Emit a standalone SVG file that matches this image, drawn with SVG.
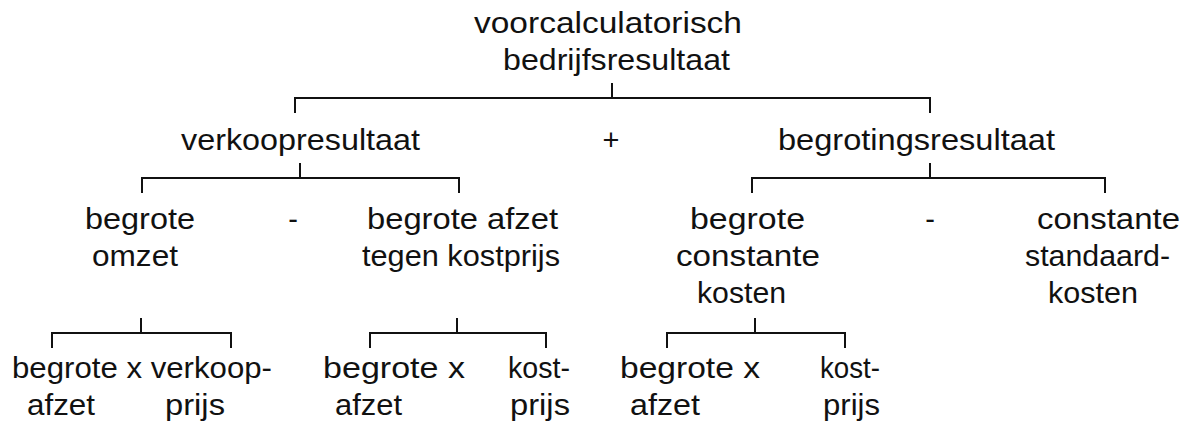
<svg xmlns="http://www.w3.org/2000/svg" width="1184" height="425" viewBox="0 0 1184 425">
<style>
text{font-family:"Liberation Sans",Arial,sans-serif;font-size:29px;fill:#111}
.c path{fill:none;stroke:#111;stroke-width:2}
</style>
<rect width="1184" height="425" fill="#fff"/>
<g class="c" id="connectors">
<path d="M612 83V98M295 113V98H930V113"/>
<path d="M300 163V178M142 193V178H459V193"/>
<path d="M930 163V178M752 193V178H1105V193"/>
<path d="M141 318V333M52 348V333H231V348"/>
<path d="M457 318V333M370 348V333H546V348"/>
<path d="M755 318V333M667 348V333H845V348"/>
</g>
<g id="root"><text x="474" y="33" textLength="268" lengthAdjust="spacingAndGlyphs">voorcalculatorisch</text><text x="503" y="70" textLength="227" lengthAdjust="spacingAndGlyphs">bedrijfsresultaat</text></g>
<g id="verkoopresultaat"><text x="181" y="150" textLength="239" lengthAdjust="spacingAndGlyphs">verkoopresultaat</text></g>
<g id="plus"><text x="611" y="150" text-anchor="middle">+</text></g>
<g id="begrotingsresultaat"><text x="778" y="150" textLength="277" lengthAdjust="spacingAndGlyphs">begrotingsresultaat</text></g>
<g id="begrote-omzet"><text x="85" y="229" textLength="110" lengthAdjust="spacingAndGlyphs">begrote</text><text x="92" y="266" textLength="86" lengthAdjust="spacingAndGlyphs">omzet</text></g>
<g id="minus1"><text x="293" y="229" text-anchor="middle">-</text></g>
<g id="begrote-afzet-kostprijs"><text x="367" y="229" textLength="191" lengthAdjust="spacingAndGlyphs">begrote afzet</text><text x="362" y="266" textLength="198" lengthAdjust="spacingAndGlyphs">tegen kostprijs</text></g>
<g id="begrote-constante-kosten"><text x="690" y="229" textLength="115" lengthAdjust="spacingAndGlyphs">begrote</text><text x="676" y="266" textLength="144" lengthAdjust="spacingAndGlyphs">constante</text><text x="697" y="303" textLength="89" lengthAdjust="spacingAndGlyphs">kosten</text></g>
<g id="minus2"><text x="930" y="229" text-anchor="middle">-</text></g>
<g id="constante-standaardkosten"><text x="1037" y="229" textLength="143" lengthAdjust="spacingAndGlyphs">constante</text><text x="1025" y="266" textLength="145" lengthAdjust="spacingAndGlyphs">standaard-</text><text x="1048" y="303" textLength="90" lengthAdjust="spacingAndGlyphs">kosten</text></g>
<g id="leaf1"><text x="12" y="378" textLength="260" lengthAdjust="spacingAndGlyphs">begrote x verkoop-</text><text x="27" y="415" textLength="68" lengthAdjust="spacingAndGlyphs">afzet</text><text x="165" y="415" textLength="60" lengthAdjust="spacingAndGlyphs">prijs</text></g>
<g id="leaf2"><text x="323" y="378" textLength="142" lengthAdjust="spacingAndGlyphs">begrote x</text><text x="508" y="378" textLength="62" lengthAdjust="spacingAndGlyphs">kost-</text><text x="335" y="415" textLength="67" lengthAdjust="spacingAndGlyphs">afzet</text><text x="510" y="415" textLength="60" lengthAdjust="spacingAndGlyphs">prijs</text></g>
<g id="leaf3"><text x="620" y="378" textLength="140" lengthAdjust="spacingAndGlyphs">begrote  x</text><text x="820" y="378" textLength="60" lengthAdjust="spacingAndGlyphs">kost-</text><text x="630" y="415" textLength="70" lengthAdjust="spacingAndGlyphs">afzet</text><text x="823" y="415" textLength="57" lengthAdjust="spacingAndGlyphs">prijs</text></g>
</svg>
